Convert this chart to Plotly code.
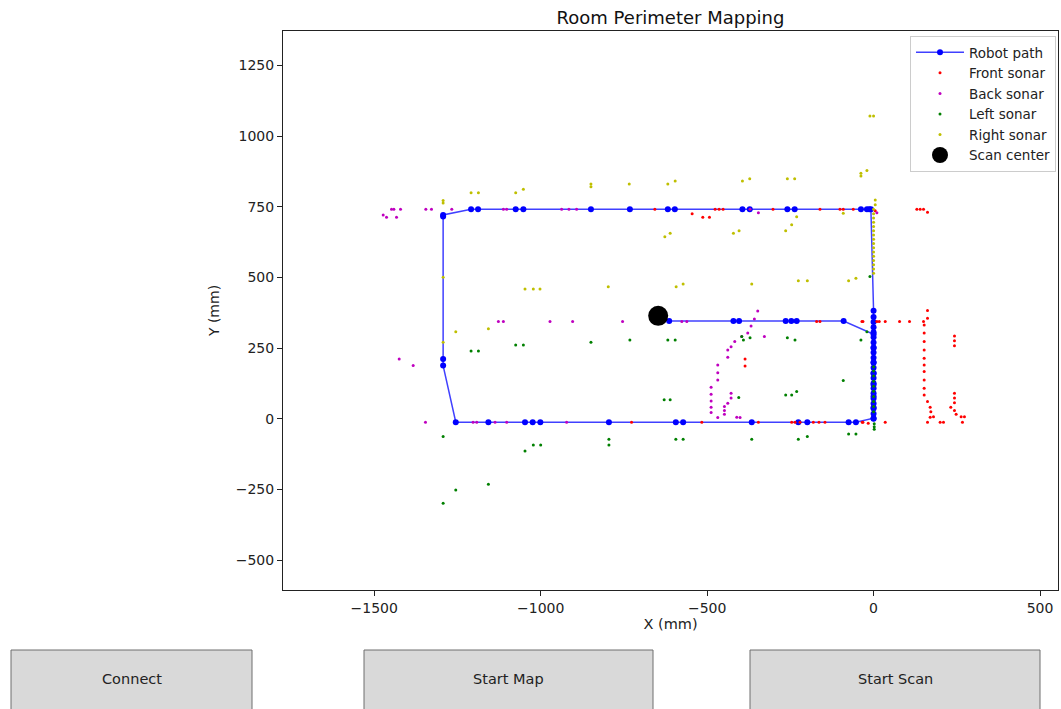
import plotly.graph_objects as go

# ---------------- data (mm) ----------------
path_x = [0, 0, 0, 0, 0, 0, 0, 0, 0, 0, 0, 0, 0, 0, 0, 0, 0, 0, 0, 0, 0, 0,
          -8, -13, -20, -38, -237, -259, -372, -394, -597, -618, -732, -849,
          -1052, -1075, -1188, -1209, -1293, -1293, -1293, -1293,
          -1255, -1157, -1047, -1024, -1001, -795, -594, -572, -366, -226, -199, -75, -53,
          0, 0, 0, 0, 0, 0, 0, 0,
          -90, -231, -247, -264, -404, -421, -614]
path_y = [0, 18, 36, 54, 72, 90, 108, 126, 144, 162, 180, 198, 216, 234, 252, 270, 288, 306, 324, 342, 360, 382,
          741, 741, 741, 741, 741, 741, 741, 741, 741, 741, 741, 741,
          741, 741, 741, 741, 721, 716, 211, 188,
          -12, -12, -12, -12, -12, -12, -12, -12, -12, -12, -12, -12, -12,
          2, 40, 80, 120, 160, 200, 250, 299,
          346, 346, 346, 346, 346, 346, 346]

scan_x = [-647]
scan_y = [364]

front_x = [-657, -476, -464, -452, -302, -161, -101, -91, -61, 5, -545, -513, -493,
           130, 140, 150, 162,
           -171, -161, -35, -32, 10, 17, 35, 78, 108, 150,
           162, 162, 152, 152, 152, 152, 152, 152, 152, 152, 152, 152, 162, 170, 172, 170, 180, 162,
           200, 210,
           243, 243, 243, 243, 243, 243, 232, 243, 248, 263, 273, 267,
           35, -32, -727, -516, -346, -246, -236, -221, -181, -164, -146, -34, -16,
           -386, -386]
front_y = [741, 741, 741, 741, 741, 741, 741, 741, 741, 736, 725, 713, 713,
           741, 741, 741, 731,
           344, 344, 344, 344, 344, 344, 344, 344, 344, 344,
           383, 356, 332, 303, 273, 243, 214, 190, 167, 137, 108, 84, 61, 41, 25, 5, 7, -12,
           -12, -12,
           293, 276, 258, 90, 73, 57, 41, 29, 16, 7, 7, -12,
           -12, -12, -12, -12, -12, -12, -12, -12, -12, -12, -12, -12, -16,
           211, 187]

back_x = [-1473, -1463, -1448, -1441, -1421, -1433, -1345, -1328, -1267, -1112, -1102,
          -937, -915, -892, -371, -346, 10,
          -1425, -1383, -1346,
          -1127, -1112, -972, -904, -754, -576, -561,
          -1203, -1192, -1137, -1102, -922,
          -348, -358, -368, -378, -328, -396, -417, -428, -438, -438, -468, -468, -468,
          -488, -488, -488, -488, -488, -468, -448, -448, -448, -438, -428, -428, -411, -401]
back_y = [721, 713, 741, 741, 741, 713, 741, 741, 741, 741, 741,
          741, 741, 741, 741, 729, 729,
          211, 188, -12,
          344, 344, 344, 344, 344, 344, 344,
          -12, -12, -12, -12, -12,
          381, 353, 328, 303, 291, 291, 273, 255, 243, 218, 190, 163, 137,
          111, 87, 63, 41, 22, 4, 43, 29, 16, 55, 73, 90, 5, 4]

left_x = [-1293, -1255, -1293, -1157, -1022, -1000, -1047, -795, -795,
          -1209, -1187, -1075, -1052, -849, -732, -618, -596, -396, -391, -371, -259, -236, -38,
          -91, -629, -611, -405, -264, -246, -231,
          -594, -572, -366, -226, -199, -75, -53, 2, 2, 2,
          -11, -20,
          0, 0, 0, 0, 0, 0, 0, 0, 0, 0]
left_y = [-63, -252, -299, -232, -93, -93, -114, -73, -93,
          240, 240, 261, 261, 271, 279, 279, 279, 291, 279, 287, 287, 279, 279,
          135, 67, 67, 75, 84, 84, 96,
          -73, -73, -73, -73, -63, -54, -54, -18, -28, -37,
          503, 308,
          25, 43, 61, 79, 97, 115, 133, 151, 169, 184]

right_x = [-1293, -1293, -1209, -1187, -1075, -1052, -849, -849, -734, -618, -596, -394, -372,
           -259, -237, -38, -38, -20, -11, 0,
           -627, -611, -421, -404, -264, -246, -231, -91, 5, 5,
           -1293, -1047, -1022, -1002, -797, -1255, -1157, -1293,
           -593, -572, -366, -226, -199, -75, -53,
           0, 0, 0, 0, 0, 0, 0, 0, 0, 0, 0, 0, 0, 0, 0, 0]
right_y = [772, 763, 800, 800, 800, 812, 831, 821, 831, 831, 841, 841, 849,
           849, 849, 869, 859, 878, 1071, 1071,
           644, 656, 656, 665, 665, 686, 715, 727, 774, 757,
           501, 459, 459, 459, 467, 308, 318, 271,
           467, 477, 477, 488, 488, 488, 497,
           515, 530, 545, 560, 575, 590, 605, 620, 635, 650, 665, 680, 695, 710, 725, 741]

x_ticks = [-1500, -1000, -500, 0, 500]
y_ticks = [-500, -250, 0, 250, 500, 750, 1000, 1250]
buttons = ["Connect", "Start Map", "Start Scan"]

# ---------------- figure ----------------
W, H = 1061, 709
L, R, T, B = 283, 1058, 31, 590
FONT = "DejaVu Sans"

fig = go.Figure()
fig.add_trace(go.Scatter(x=path_x, y=path_y, mode="lines+markers", name="Robot path",
                         line=dict(color="rgba(0,0,255,0.75)", width=1.5),
                         marker=dict(color="#0000ff", size=6)))
fig.add_trace(go.Scatter(x=front_x, y=front_y, mode="markers", name="Front sonar",
                         marker=dict(color="#ff0000", size=3)))
fig.add_trace(go.Scatter(x=back_x, y=back_y, mode="markers", name="Back sonar",
                         marker=dict(color="#bf00bf", size=3)))
fig.add_trace(go.Scatter(x=left_x, y=left_y, mode="markers", name="Left sonar",
                         marker=dict(color="#008000", size=3)))
fig.add_trace(go.Scatter(x=right_x, y=right_y, mode="markers", name="Right sonar",
                         marker=dict(color="#bfbf00", size=3)))
fig.add_trace(go.Scatter(x=scan_x, y=scan_y, mode="markers", name="Scan center",
                         marker=dict(color="#000000", size=20)))


def px_to_paper_x(px):
    return (px - L) / (R - L)


def px_to_paper_y(py):
    return (B - py) / (B - T)


btn_boxes = [(11, 252), (364, 653), (750, 1040)]
shapes = []
annotations = []
for label, (x0, x1) in zip(buttons, btn_boxes):
    shapes.append(dict(type="rect", xref="paper", yref="paper",
                       x0=px_to_paper_x(x0), x1=px_to_paper_x(x1),
                       y0=px_to_paper_y(650), y1=px_to_paper_y(715),
                       fillcolor="#d9d9d9", line=dict(color="#6e6e6e", width=1)))
    annotations.append(dict(text=label, xref="paper", yref="paper",
                            x=px_to_paper_x((x0 + x1) / 2), y=px_to_paper_y(679),
                            showarrow=False, xanchor="center", yanchor="middle",
                            font=dict(family=FONT, size=14.5, color="#222222")))

fig.update_layout(
    width=W, height=H,
    margin=dict(l=L, r=W - R, t=T, b=H - B, pad=0),
    paper_bgcolor="white", plot_bgcolor="white",
    font=dict(family=FONT, size=14, color="#222222"),
    title=dict(text="Room Perimeter Mapping", x=(L + R) / 2 / W, xanchor="center",
               y=1 - 18 / H, yanchor="middle", font=dict(family=FONT, size=18, color="#111111")),
    showlegend=True,
    legend=dict(x=px_to_paper_x(1056), y=px_to_paper_y(36), xanchor="right", yanchor="top",
                bgcolor="rgba(255,255,255,0.85)", bordercolor="#cccccc", borderwidth=1,
                font=dict(family=FONT, size=13.5, color="#222222"),
                tracegroupgap=0, itemsizing="trace", itemwidth=48),
    shapes=shapes,
    annotations=annotations,
)
fig.update_xaxes(range=[-1774, 554], tickvals=x_ticks, ticks="outside", ticklen=5,
                 tickcolor="#222222", showline=True, linecolor="#222222", linewidth=1,
                 mirror=True, showgrid=False, zeroline=False,
                 title=dict(text="X (mm)", standoff=1, font=dict(family=FONT, size=14.5)),
                 tickfont=dict(family=FONT, size=14))
fig.update_yaxes(range=[-606, 1372], tickvals=y_ticks, ticks="outside", ticklen=5,
                 tickcolor="#222222", showline=True, linecolor="#222222", linewidth=1,
                 mirror=True, showgrid=False, zeroline=False,
                 title=dict(text="Y (mm)", standoff=12, font=dict(family=FONT, size=14)),
                 tickfont=dict(family=FONT, size=14))

fig.write_html("out.html")
